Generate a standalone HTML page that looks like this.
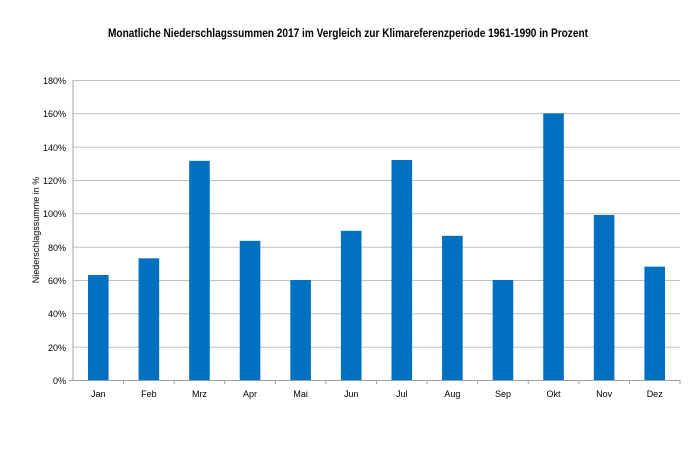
<!DOCTYPE html>
<html><head><meta charset="utf-8"><style>body{margin:0;background:#fff}</style></head><body>
<svg width="700" height="452" xmlns="http://www.w3.org/2000/svg" font-family="Liberation Sans, sans-serif">
<rect width="700" height="452" fill="#fff"/>
<text x="108" y="37" textLength="480" lengthAdjust="spacingAndGlyphs" font-size="11.5" font-weight="bold" fill="#000">Monatliche Niederschlagssummen 2017 im Vergleich zur Klimareferenzperiode 1961-1990 in Prozent</text>
<g stroke="#c0c0c0" stroke-width="1">
<line x1="73" y1="80.5" x2="680" y2="80.5"/><line x1="73" y1="113.8" x2="680" y2="113.8"/><line x1="73" y1="147.2" x2="680" y2="147.2"/><line x1="73" y1="180.5" x2="680" y2="180.5"/><line x1="73" y1="213.8" x2="680" y2="213.8"/><line x1="73" y1="247.2" x2="680" y2="247.2"/><line x1="73" y1="280.5" x2="680" y2="280.5"/><line x1="73" y1="313.8" x2="680" y2="313.8"/><line x1="73" y1="347.2" x2="680" y2="347.2"/>
</g>
<g stroke="#a0a0a0"><line x1="73" y1="80" x2="73" y2="381"/><line x1="69" y1="380.5" x2="680" y2="380.5"/></g>
<g fill="#0070c0" id="b"></g>
<g font-size="9" fill="#000" text-anchor="end">
<text x="66" y="84">180%</text><text x="66" y="117">160%</text><text x="66" y="151">140%</text><text x="66" y="184">120%</text><text x="66" y="217">100%</text><text x="66" y="251">80%</text><text x="66" y="284">60%</text><text x="66" y="317">40%</text><text x="66" y="351">20%</text><text x="66" y="384">0%</text>
</g>
<text transform="translate(39,230) rotate(-90)" font-size="9" text-anchor="middle">Niederschlagssumme in %</text>
<g id="x" font-size="9" text-anchor="middle"></g>
<script>
var v=[63,73,131.5,83.5,60,89.5,132,86.5,60,160,99,68],m=["Jan","Feb","Mrz","Apr","Mai","Jun","Jul","Aug","Sep","Okt","Nov","Dez"];
var b=document.getElementById("b"),x=document.getElementById("x"),w=607/12,ns="http://www.w3.org/2000/svg";
for(var i=0;i<12;i++){var c=73+w*(i+.5),h=v[i]/180*300;var r=document.createElementNS(ns,"rect");r.setAttribute("x",c-10.3);r.setAttribute("width",20.6);r.setAttribute("y",380-h);r.setAttribute("height",h);b.appendChild(r);
var t=document.createElementNS(ns,"text");t.setAttribute("x",c);t.setAttribute("y",397);t.textContent=m[i];x.appendChild(t);
var l=document.createElementNS(ns,"line");l.setAttribute("x1",73+w*(i+1));l.setAttribute("x2",73+w*(i+1));l.setAttribute("y1",380);l.setAttribute("y2",384);l.setAttribute("stroke","#a0a0a0");x.appendChild(l);}
</script>
</svg>
</body></html>
